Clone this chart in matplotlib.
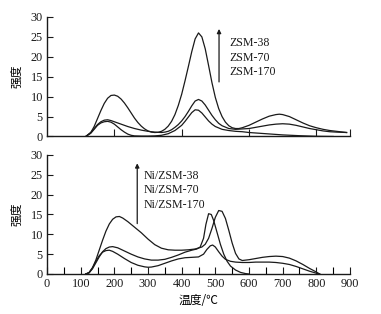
import matplotlib
matplotlib.use("Agg")
import matplotlib.pyplot as plt

plt.rcParams['font.family'] = ['Liberation Serif', 'Noto Sans CJK SC']

# ---- top panel: ZSM samples ----
top_labels = ["ZSM-38", "ZSM-70", "ZSM-170"]

t1_x = [115, 130, 140, 150, 160, 170, 180, 190, 200, 210, 220, 230, 240, 250, 260, 270, 280, 290, 300,
        310, 320, 330, 340, 350, 360, 370, 380, 390, 400, 410, 420, 430, 440, 450, 460, 470, 480, 490,
        500, 510, 520, 530, 540, 550, 560, 570, 580, 600, 620, 640, 660, 680, 690, 700, 720, 740, 760,
        780, 800, 820, 840, 860, 890]
t1_y = [0, 1.0, 2.5, 4.5, 6.5, 8.3, 9.6, 10.3, 10.4, 10.1, 9.4, 8.4, 7.2, 5.9, 4.6, 3.5, 2.6, 1.9, 1.4,
        1.1, 1.0, 1.05, 1.3, 1.8, 2.6, 3.8, 5.5, 7.8, 10.6, 14.0, 17.6, 21.3, 24.5, 26.0, 25.0, 22.0, 17.8, 13.5,
        9.8, 7.0, 5.0, 3.6, 2.7, 2.2, 2.0, 2.0, 2.2, 2.8, 3.6, 4.4, 5.1, 5.5, 5.6, 5.5, 5.0, 4.2, 3.4,
        2.7, 2.2, 1.8, 1.5, 1.3, 1.0]

t2_x = [115, 130, 140, 150, 160, 170, 180, 190, 200, 220, 240, 260, 280, 300, 320, 340, 350, 360, 370,
        380, 390, 400, 410, 420, 430, 440, 450, 460, 470, 480, 490, 500, 510, 520, 540, 560, 580, 600,
        620, 640, 660, 680, 700, 720, 740, 760, 780, 800, 820, 840, 860, 890]
t2_y = [0, 1.0, 2.0, 3.0, 3.7, 4.1, 4.2, 4.0, 3.7, 3.1, 2.5, 2.0, 1.6, 1.3, 1.1, 1.0, 1.1, 1.3, 1.7,
        2.3, 3.0, 3.9, 5.0, 6.3, 7.7, 8.9, 9.3, 8.9, 7.9, 6.6, 5.3, 4.2, 3.3, 2.7, 2.0, 1.8, 1.9, 2.0,
        2.3, 2.6, 2.9, 3.1, 3.2, 3.1, 2.8, 2.4, 2.0, 1.7, 1.4, 1.2, 1.1, 1.0]

t3_x = [115, 130, 140, 150, 160, 170, 180, 190, 200, 210, 220, 230, 240, 250, 260, 280, 300, 320, 340,
        360, 380, 400, 410, 420, 430, 440, 450, 460, 470, 480, 490, 500, 520, 540, 560, 580, 600, 650,
        700, 750, 800, 850]
t3_y = [0, 0.8, 1.8, 2.8, 3.4, 3.7, 3.8, 3.6, 3.1, 2.4, 1.7, 1.1, 0.6, 0.3, 0.15, 0.1, 0.1, 0.15, 0.3,
        0.7, 1.5, 2.8, 3.8, 4.9, 6.0, 6.7, 6.6, 5.9, 4.9, 3.9, 3.1, 2.5, 1.8, 1.5, 1.3, 1.2, 1.0, 0.7,
        0.4, 0.2, 0.05, 0]

# ---- bottom panel: Ni/ZSM samples ----
bottom_labels = ["Ni/ZSM-38", "Ni/ZSM-70", "Ni/ZSM-170"]

b1_x = [115, 125, 135, 145, 155, 165, 175, 185, 195, 205, 215, 225, 240, 260, 280, 300, 320, 340, 360,
        380, 400, 420, 440, 460, 470, 480, 490, 500, 510, 520, 530, 540, 550, 560, 570, 580, 600, 620,
        640, 660, 680, 700, 720, 740, 760, 780, 800, 810]
b1_y = [0, 0.3, 1.5, 3.5, 6.0, 8.5, 10.8, 12.6, 13.8, 14.4, 14.5, 14.1, 13.2, 11.8, 10.4, 8.8, 7.4, 6.5, 6.1,
        6.0, 6.0, 6.1, 6.3, 6.8, 7.5, 9.0, 11.5, 14.3, 16.0, 15.8, 14.0, 11.0, 7.8, 5.2, 3.8, 3.4, 3.6, 3.9,
        4.2, 4.4, 4.5, 4.4, 4.0, 3.3, 2.4, 1.4, 0.5, 0]

b2_x = [115, 125, 135, 145, 155, 165, 175, 185, 195, 210, 230, 250, 270, 290, 310, 330, 350, 370, 390,
        410, 430, 445, 455, 465, 472, 480, 488, 495, 505, 515, 525, 535, 545, 560, 575, 590, 600]
b2_y = [0, 0.3, 1.3, 2.8, 4.3, 5.6, 6.4, 6.8, 6.9, 6.6, 5.8, 5.0, 4.3, 3.8, 3.5, 3.5, 3.7, 4.2, 4.8,
        5.5, 6.0, 6.3, 6.8, 9.0, 12.5, 15.2, 15.0, 13.5, 10.5, 7.5, 5.0, 3.2, 2.0, 1.0, 0.4, 0.1, 0]

b3_x = [115, 125, 135, 145, 155, 165, 175, 185, 195, 210, 230, 250, 270, 290, 300, 310, 330, 350, 370,
        390, 410, 430, 450, 465, 475, 485, 492, 500, 510, 520, 530, 545, 560, 580, 600, 620, 640, 660,
        680, 700, 720, 740, 760, 780, 800, 810]
b3_y = [0, 0.4, 1.6, 3.2, 4.6, 5.5, 5.9, 6.0, 5.7, 5.0, 3.9, 2.9, 2.2, 1.8, 1.7, 1.75, 2.1, 2.7, 3.3,
        3.8, 4.1, 4.2, 4.3, 5.0, 6.2, 7.1, 7.3, 6.8, 5.6, 4.5, 3.7, 3.2, 3.0, 2.9, 2.9, 3.0, 3.0, 3.0,
        2.9, 2.7, 2.4, 1.9, 1.3, 0.7, 0.2, 0]

top_curves = [(t1_x, t1_y), (t2_x, t2_y), (t3_x, t3_y)]
bottom_curves = [(b1_x, b1_y), (b2_x, b2_y), (b3_x, b3_y)]

yticks = [0, 5, 10, 15, 20, 25, 30]
cjk = ['Noto Sans CJK SC', 'Liberation Serif']
line_color = '#1a1a1a'


def style_axis(ax):
    ax.set_xlim(0, 900)
    ax.set_ylim(0, 30)
    ax.spines['top'].set_visible(False)
    ax.spines['right'].set_visible(False)
    for s in ['left', 'bottom']:
        ax.spines[s].set_linewidth(1.0)
        ax.spines[s].set_color(line_color)
    ax.set_yticks(yticks)
    ax.tick_params(direction='in', length=4, width=0.8, labelsize=8.8, pad=3, colors=line_color)
    ax.set_ylabel('强度', family=cjk, fontsize=8.5, labelpad=5)


fig = plt.figure(figsize=(3.81, 3.14), dpi=100)
ax_top = fig.add_axes([0.1234, 0.5653, 0.7952, 0.3806])
ax_bot = fig.add_axes([0.1234, 0.1274, 0.7952, 0.3790])

# top panel
for x, y in top_curves:
    ax_top.plot(x, y, color=line_color, lw=0.9)
style_axis(ax_top)
ax_top.set_xticks([200, 400, 600, 800, 900])
ax_top.tick_params(axis='x', length=5, labelbottom=False)
ax_top.annotate('', xy=(511, 27.7), xytext=(511, 13.0),
                arrowprops=dict(arrowstyle='-|>', color=line_color, lw=0.9, mutation_scale=6))
for i, lab in enumerate(top_labels):
    ax_top.text(543, 23.5 - i * 3.7, lab, fontsize=8.6, va='center', ha='left', color=line_color)

# bottom panel
for x, y in bottom_curves:
    ax_bot.plot(x, y, color=line_color, lw=0.9)
style_axis(ax_bot)
ax_bot.set_xticks(range(0, 901, 100))
ax_bot.set_xticks(range(50, 900, 100), minor=True)
ax_bot.tick_params(axis='x', which='both', direction='in', length=5, width=0.8)
ax_bot.set_xlabel('温度/℃', family=cjk, fontsize=8.5, labelpad=3)
ax_bot.annotate('', xy=(268, 28.6), xytext=(268, 12.0),
                arrowprops=dict(arrowstyle='-|>', color=line_color, lw=0.9, mutation_scale=6))
for i, lab in enumerate(bottom_labels):
    ax_bot.text(287, 24.8 - i * 3.7, lab, fontsize=8.6, va='center', ha='left', color=line_color)

fig.savefig('out.png', dpi=100, facecolor='white')
